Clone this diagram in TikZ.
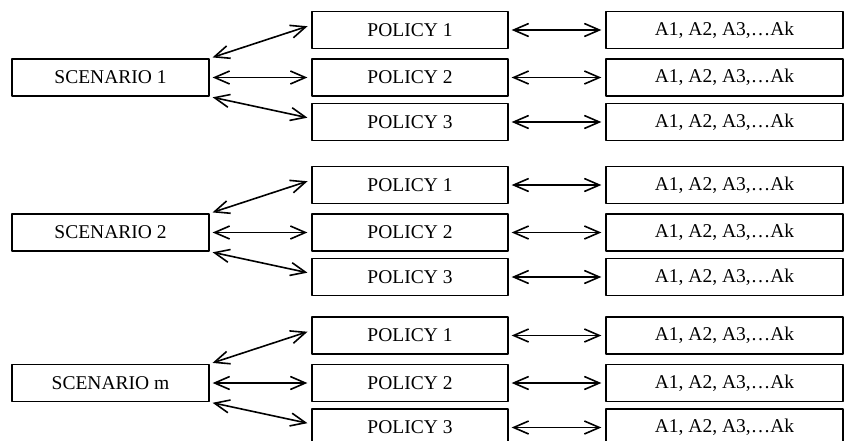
\documentclass[tikz,border=0pt]{standalone}
\usepackage{fontspec}
\setmainfont{Liberation Serif}
\usetikzlibrary{arrows.meta}
\begin{document}
\begin{tikzpicture}[x=0.5pt, y=-0.5pt, font=\fontsize{9.75}{12}\selectfont, line join=round,
  >={Straight Barb[length=7.5pt,width=6.5pt]},
  box/.style={draw, line width=0.65pt, minimum height=18.5pt, inner sep=0pt},
  scen/.style={box, minimum width=98.5pt},
  pol/.style={box, minimum width=98pt},
  alt/.style={box, minimum width=118.5pt},
  link/.style={<->, line width=0.8pt, shorten <=1.5pt, shorten >=2pt}]
\useasboundingbox (0,0) rectangle (845,440);
%Scenarios, policies and alternatives
\foreach \g/\y/\s in {1/77.5/1, 2/232.5/2, 3/383/m}{
  \node[scen] (s\g) at (110.5,\y) {SCENARIO \s};
  \foreach \k/\d in {1/-47.5, 2/0, 3/44.5}{
    \node[pol] (p\g\k) at ({410},{\y+\d}) {POLICY \k};
    \node[alt] (a\g\k) at ({724.5},{\y+\d}) {A1, A2, A3,…Ak};
    \draw[link] (p\g\k) -- (a\g\k);
  }
  \draw[link] (s\g.north east) -- ([yshift=2.5pt]p\g1.west);
  \draw[link] (s\g) -- (p\g2);
  \draw[link] (s\g.south east) -- ([yshift=1.75pt]p\g3.west);
}
\end{tikzpicture}
\end{document}
